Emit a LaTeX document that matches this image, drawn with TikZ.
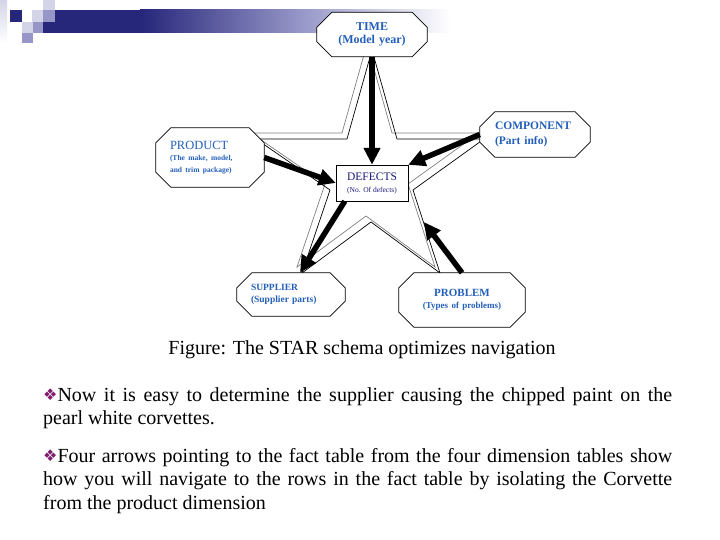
\documentclass[tikz,border=0pt]{standalone}
\usepackage{fontspec}
\setmainfont{Liberation Serif}
\newfontfamily\symfont{DejaVu Sans}
\usetikzlibrary{arrows.meta, calc}
\pgfdeclarelayer{back}
\pgfdeclarelayer{mid}
\pgfsetlayers{back,mid,main}
\definecolor{dimblue}{RGB}{35,95,185}
\definecolor{factnavy}{RGB}{25,25,125}
\definecolor{barnavy}{RGB}{38,38,122}
\definecolor{barlight}{RGB}{212,212,232}
\definecolor{barmid}{RGB}{150,150,200}
\definecolor{bulletpurple}{RGB}{128,30,110}
\newcommand{\vbullet}{\raisebox{1pt}{\symfont\fontsize{16}{16}\selectfont\color{bulletpurple}❖}}

\begin{document}
\begin{tikzpicture}[x=1pt, y=-1pt,
    dimtable/.style={rectangle, inner sep=0pt, text=dimblue, font=\bfseries, align=left},
    octline/.style={draw=black, fill=white, line width=0.7pt},
    facttable/.style={draw, fill=white, rectangle, minimum width=72pt, minimum height=36pt, inner sep=0pt, text=factnavy, align=center},
    navarrow/.style={-{Triangle[length=17pt, width=16pt]}, line width=5.5pt},
    starline/.style={line width=0.7pt, line join=miter},
    bodytext/.style={anchor=north west, text width=629pt, align=justify, inner sep=0pt, font=\fontsize{20}{23.5}\selectfont}
]
    \useasboundingbox (0,0) rectangle (720,540);

    \begin{pgfonlayer}{back}
    % Title bar decoration
    \shade[top color=barlight, bottom color=white] (0,0) rectangle (7,43);
    \fill[barnavy] (43,10) rectangle (140,33);
    \shade[left color=barnavy, right color=barmid] (140,10) rectangle (300,33);
    \shade[left color=barmid, right color=white] (300,10) rectangle (450,33);
    \fill[barnavy] (10,10) rectangle (22,22);
    \fill[barlight] (32,10) rectangle (43,22);
    \fill[barlight] (43,0) rectangle (55,10);
    \fill[barmid] (43,10) rectangle (55,22);
    \fill[barlight] (22,22) rectangle (33,33);
    \fill[barmid] (33,22) rectangle (43,33);
    \fill[barmid] (22,33) rectangle (33,43);

    % Star outline
    \foreach \dx/\dy/\col in {-5/-6/gray, 0/0/black}
        \draw[starline, \col, shift={(\dx,\dy)}] (372,50) -- (397,139) -- (484,139) -- (413,190)
            -- (440,273) -- (371,222) -- (302,273) -- (330,190) -- (256,139) -- (347,139) -- cycle;
    \end{pgfonlayer}

    % Dimension tables and fact table
    \node[dimtable, minimum width=110pt, minimum height=44pt, text width=82pt, align=center,
        font=\bfseries\fontsize{12}{13.5}\selectfont] (time) at (372,34.5) {TIME\\(Model year)};
    \node[dimtable, minimum width=110pt, minimum height=45pt, text width=80pt,
        font=\bfseries\fontsize{11.5}{15}\selectfont] (component) at (535,134.5) {COMPONENT\\(Part info)};
    \node[dimtable, minimum width=108pt, minimum height=59pt, text width=80pt] (product) at (210,157.5)
        {\mdseries\fontsize{12.5}{14}\selectfont PRODUCT\\
         \bfseries\fontsize{7.5}{11.5}\selectfont (The make, model,\\and trim package)};
    \node[facttable] (defects) at (372,183)
        {\fontsize{11.5}{13}\selectfont DEFECTS\\\fontsize{7.5}{12}\selectfont (No. Of defects)};
    \node[dimtable, minimum width=108pt, minimum height=43pt, text width=80pt,
        font=\bfseries\fontsize{9.5}{12}\selectfont] (supplier) at (291,294.5) {SUPPLIER\\(Supplier parts)};
    \node[dimtable, minimum width=126pt, minimum height=54pt, text width=96pt, align=center] (problem) at (462,300)
        {\fontsize{11}{13}\selectfont PROBLEM\\\fontsize{9}{13}\selectfont (Types of problems)};

    % Octagon outlines behind the dimension texts
    \begin{pgfonlayer}{mid}
    \foreach \n in {time, component, product, supplier, problem}
        \filldraw[octline] ($(\n.north west)+(15,0)$) -- ($(\n.north east)+(-15,0)$)
            -- ($(\n.north east)+(0,15)$) -- ($(\n.south east)+(0,-15)$)
            -- ($(\n.south east)+(-15,0)$) -- ($(\n.south west)+(15,0)$)
            -- ($(\n.south west)+(0,-15)$) -- ($(\n.north west)+(0,15)$) -- cycle;
    \end{pgfonlayer}

    % Navigation arrows
    \draw[navarrow] (time) -- (defects);
    \draw[navarrow] (product.east) -- (defects.west);
    \draw[navarrow] (component.west) -- (defects.north east);
    \draw[navarrow] ($(defects.south west)+(9,0)$) -- ($(supplier.north)+(9,0)$);
    \draw[navarrow, shorten >=26pt] (problem.north) -- (defects.south east);

    % Caption and notes
    \node[anchor=base, font=\fontsize{20}{24}\selectfont, inner sep=0pt] (caption) at (362,354)
        {Figure: The STAR schema optimizes navigation};
    \node[bodytext] (note1) at (43,387)
        {\vbullet Now it is easy to determine the supplier causing the chipped paint on the\linebreak
         pearl white corvettes.};
    \node[bodytext] (note2) at (43,448)
        {\vbullet Four arrows pointing to the fact table from the four dimension tables show\linebreak
         how you will navigate to the rows in the fact table by isolating the Corvette\linebreak
         from the product dimension};
\end{tikzpicture}
\end{document}
